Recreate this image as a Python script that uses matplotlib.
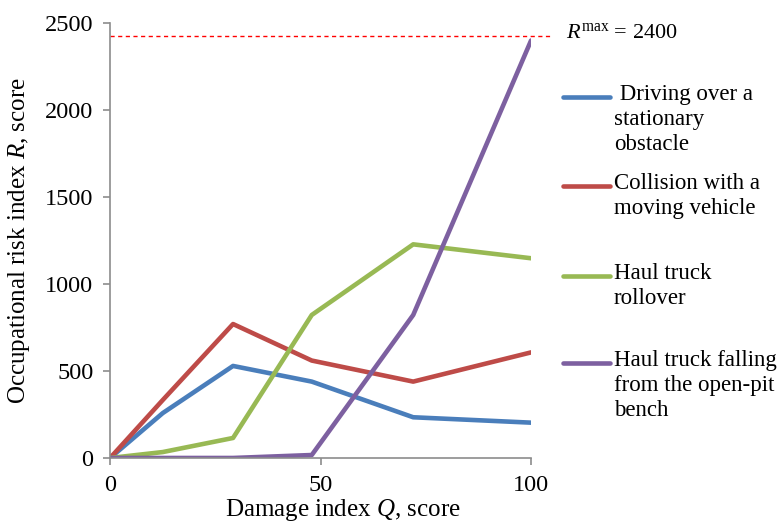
import matplotlib.pyplot as plt
from matplotlib.lines import Line2D

plt.rcParams["font.family"] = ["Liberation Serif", "DejaVu Serif"]
plt.rcParams["mathtext.fontset"] = "custom"
plt.rcParams["mathtext.rm"] = "Liberation Serif"
plt.rcParams["mathtext.it"] = "Liberation Serif:italic"

q = [0, 12.5, 29.2, 47.9, 72.0, 100]
driving = [0, 258, 529, 439, 234, 203]
collision = [0, 333, 770, 560, 439, 607]
rollover = [0, 34, 115, 822, 1228, 1148]
falling = [0, 0, 0, 17, 822, 2400]
r_max_line = 2425  # dashed line as drawn in the source figure

series = [
    (driving, "#4A7EBB", " Driving over a\nstationary\nobstacle"),
    (collision, "#BE4B48", "Collision with a\nmoving vehicle"),
    (rollover, "#98B954", "Haul truck\nrollover"),
    (falling, "#7D60A0", "Haul truck falling\nfrom the open-pit\nbench"),
]

fig = plt.figure(figsize=(7.81, 5.24), dpi=100)
ax = fig.add_axes([0.141, 0.126, 0.539, 0.830])

for vals, color, _ in series:
    ax.plot(q, vals, color=color, linewidth=3.3, solid_capstyle="round")

ax.plot([0, 105], [r_max_line, r_max_line], color="red",
        linestyle=(0, (3, 2.5)), linewidth=1.0, clip_on=False)
ax.text(108.3, r_max_line + 15, r"$R^{\rm max}$ = 2400", fontsize=16,
        va="center", ha="left", clip_on=False)

ax.set_xlim(0, 100)
ax.set_ylim(0, 2500)
ax.set_xticks([0, 50, 100])
ax.set_yticks(range(0, 2501, 500))
for side in ("top", "right"):
    ax.spines[side].set_visible(False)
for side in ("left", "bottom"):
    ax.spines[side].set_color("#8c8c8c")
    ax.spines[side].set_linewidth(1.2)
ax.tick_params(axis="both", colors="#8c8c8c", labelcolor="black",
               labelsize=17.5, length=5, width=1.2, direction="out")
ax.tick_params(axis="x", pad=7)
ax.tick_params(axis="y", pad=7)
ax.set_xlabel(r"Damage index $Q$, score", fontsize=18)
ax.set_ylabel(r"Occupational risk index $R$, score", fontsize=18)
ax.xaxis.set_label_coords(0.552, -0.090)
ax.yaxis.set_label_coords(-0.185, 0.5)

# legend, drawn by hand to match the fixed slot layout
handle_y = [97, 186, 276, 363]
for (vals, color, label), hy in zip(series, handle_y):
    yf = 1 - hy / 524
    fig.add_artist(Line2D([563 / 781, 610 / 781], [yf, yf], color=color,
                          linewidth=3.3, solid_capstyle="round"))
    fig.text(614 / 781, yf + 0.025, label, fontsize=16.5, va="top",
             ha="left", linespacing=1.24)

fig.savefig("out.png", dpi=100)
